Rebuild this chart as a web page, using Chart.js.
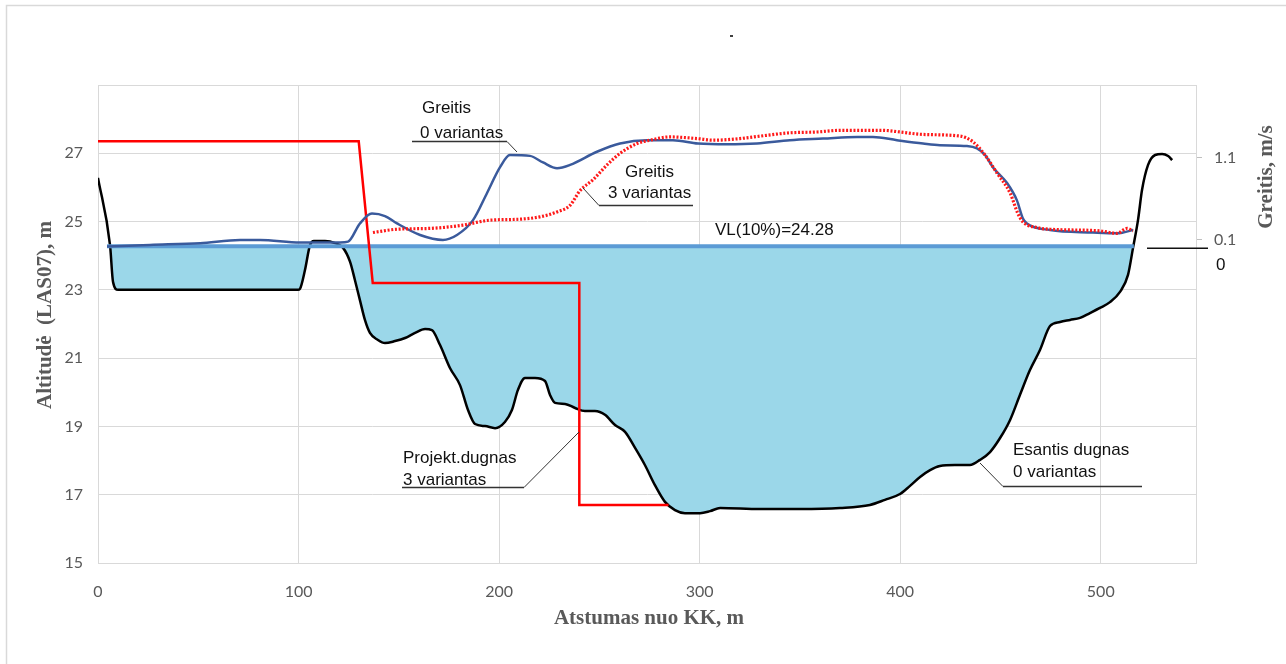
<!DOCTYPE html>
<html>
<head>
<meta charset="utf-8">
<script src="https://cdn.jsdelivr.net/npm/chart.js@4.4.1/dist/chart.umd.min.js"></script>
<style>
  html, body { margin: 0; padding: 0; background: #fff; }
  canvas { display: block; }
</style>
</head>
<body>
<canvas id="profile" width="1286" height="664"></canvas>
<script>
// existing river bed (0 variantas), distance m / altitude m
const groundDist = [0, 6, 7.5, 10, 99.7, 100.7, 103.2, 105.7, 107.7, 113.2, 118.2, 122.2, 125.7, 128.1, 130.6, 133.1,
  135.6, 139.6, 143.1, 148.1, 153.1, 158.1, 163.1, 166.5, 170.5, 175.5, 180.5, 184.5, 188, 193, 198, 202.9, 206.4,
  209.4, 212.9, 217.9, 222.9, 225.4, 227.9, 232.9, 237.9, 242.8, 247.8, 252.8, 257.8, 262.8, 267.8, 272.7, 277.7,
  282.7, 287.7, 292.7, 300.2, 305.2, 310.2, 330.1, 350, 370, 384.9, 392.4, 399.9, 404.9, 409.9, 414.9, 419.8, 427.3,
  434.8, 439.8, 444.8, 449.8, 454.8, 459.7, 464.7, 469.7, 474.7, 479.7, 484.7, 489.7, 494.6, 499.6, 504.6, 509.6,
  513.6, 516.1, 518.6, 520.6, 523.6, 527.1, 530.6, 533.6, 535.6];
const groundAlt = [26.28, 24.31, 23.23, 23.0, 23.0, 23.03, 23.58, 24.31, 24.43, 24.43, 24.37, 24.23, 23.82, 23.29, 22.7,
  22.12, 21.74, 21.53, 21.44, 21.5, 21.59, 21.74, 21.85, 21.82, 21.39, 20.71, 20.21, 19.48, 19.07, 19.01, 18.95, 19.13,
  19.48, 20.07, 20.42, 20.42, 20.33, 19.92, 19.69, 19.66, 19.54, 19.45, 19.45, 19.34, 19.04, 18.84, 18.37, 17.87,
  17.28, 16.79, 16.55, 16.46, 16.46, 16.52, 16.61, 16.58, 16.58, 16.61, 16.7, 16.85, 17.02, 17.26, 17.52, 17.72,
  17.84, 17.87, 17.87, 18.02, 18.25, 18.66, 19.19, 19.92, 20.65, 21.24, 21.94, 22.06, 22.12, 22.18, 22.32, 22.47,
  22.64, 22.94, 23.44, 24.23, 25.05, 25.93, 26.66, 26.95, 26.98, 26.92, 26.8];

// designed bed (3 variantas)
const projDist = [0, 130, 137, 240, 240, 284.5];
const projAlt = [27.35, 27.35, 23.2, 23.2, 16.7, 16.7];

// water level VL(10%)
const waterDist = [4.5, 516.5];
const waterAlt = [24.28, 24.28];

// flow velocity, m/s (0 variantas)
const vel0Dist = [4.5, 25.9, 50.9, 70.8, 80.8, 100.7, 120.7, 124.7, 130.6, 136.6, 143.1, 149.1, 160.6, 172, 179, 187,
  194, 200.4, 205.4, 215.4, 221.9, 228.9, 235.4, 248.8, 260.3, 273.8, 286.7, 299.2, 313.6, 328.6, 345, 361.5, 378.5,
  386.4, 398.4, 411.4, 419.8, 433.3, 438.3, 442.3, 446.3, 453.3, 458.2, 461.2, 463.2, 474.7, 496.1, 508.1, 511.1, 516.1];
const vel0 = [0.02, 0.04, 0.06, 0.1, 0.1, 0.07, 0.07, 0.08, 0.3, 0.42, 0.39, 0.3, 0.16, 0.1, 0.16, 0.34, 0.67, 0.98,
  1.13, 1.12, 1.04, 0.97, 1.01, 1.17, 1.27, 1.31, 1.31, 1.27, 1.26, 1.27, 1.31, 1.33, 1.35, 1.35, 1.31, 1.27, 1.25,
  1.24, 1.21, 1.13, 0.98, 0.79, 0.58, 0.36, 0.3, 0.22, 0.19, 0.18, 0.19, 0.22];

// flow velocity, m/s (3 variantas)
const vel3Dist = [137.1, 149.1, 165.5, 182, 195.5, 208.9, 220.4, 228.9, 235.4, 240.4, 246.8, 253.8, 260.3, 268.8,
  275.2, 285.2, 298.7, 306.7, 320.1, 333.6, 345, 358.5, 370, 391.4, 399.9, 411.4, 429.8, 436.3, 442.3, 448.3, 454.8,
  458.7, 461.2, 468.2, 474.7, 499.6, 508.1, 513.1, 516.1];
const vel3 = [0.19, 0.23, 0.24, 0.28, 0.34, 0.35, 0.38, 0.44, 0.52, 0.7, 0.83, 1.01, 1.15, 1.27, 1.31, 1.35, 1.33,
  1.31, 1.33, 1.37, 1.4, 1.41, 1.43, 1.43, 1.41, 1.38, 1.36, 1.29, 1.13, 0.91, 0.67, 0.42, 0.32, 0.25, 0.23, 0.21,
  0.18, 0.24, 0.21];

const distTicks = [0, 100, 200, 300, 400, 500];
const altTicks = [15, 17, 19, 21, 23, 25, 27];
const velTicks = [0.1, 1.1];

function pts(xs, ys) {
  return xs.map((x, i) => ({ x: x, y: ys[i] }));
}

const tickFont = { family: 'Lato, "Liberation Sans", sans-serif', size: 16 };
const grey = '#595959';
const gridCol = '#d9d9d9';

// frame, titles and callouts
const decor = {
  id: 'decor',
  beforeDraw(chart) {
    const ctx = chart.ctx;
    ctx.save();
    ctx.strokeStyle = gridCol;
    ctx.lineWidth = 1.5;
    ctx.beginPath();
    ctx.moveTo(6.5, 664);
    ctx.lineTo(6.5, 5.5);
    ctx.lineTo(1286, 5.5);
    ctx.stroke();
    ctx.restore();
  },
  beforeDatasetsDraw(chart) {
    const { ctx, chartArea: a } = chart;
    ctx.save();
    ctx.strokeStyle = gridCol;
    ctx.lineWidth = 1;
    ctx.strokeRect(a.left + 0.5, a.top + 0.5, a.width - 1, a.height);
    ctx.restore();
  },
  afterDraw(chart) {
    const ctx = chart.ctx;
    ctx.save();

    // axis titles
    ctx.fillStyle = grey;
    ctx.font = 'bold 21px "Liberation Serif", "Times New Roman", serif';
    ctx.textAlign = 'center';
    ctx.textBaseline = 'middle';
    ctx.fillText('Atstumas nuo KK, m', 649, 619);
    ctx.save();
    ctx.translate(46, 315);
    ctx.rotate(-Math.PI / 2);
    ctx.fillText('Altitudė  (LAS07), m', 0, 0);
    ctx.restore();
    ctx.save();
    ctx.translate(1267, 177);
    ctx.rotate(-Math.PI / 2);
    ctx.fillText('Greitis, m/s', 0, 0);
    ctx.restore();

    // tiny mark above the plot
    ctx.fillStyle = '#404040';
    ctx.fillRect(730, 35, 3, 2);

    // callouts
    ctx.fillStyle = '#111';
    ctx.font = '17px "Liberation Sans", Arial, sans-serif';
    ctx.textAlign = 'left';
    ctx.textBaseline = 'middle';
    const callout = (lines, ux0, ux1, uy, from, to) => {
      lines.forEach(l => ctx.fillText(l[0], l[1], l[2]));
      ctx.strokeStyle = '#333';
      ctx.lineWidth = 1.5;
      ctx.beginPath();
      ctx.moveTo(ux0, uy);
      ctx.lineTo(ux1, uy);
      ctx.stroke();
      ctx.lineWidth = 1;
      ctx.beginPath();
      ctx.moveTo(from[0], from[1]);
      ctx.lineTo(to[0], to[1]);
      ctx.stroke();
    };
    callout([['Greitis', 422, 108], ['0 variantas', 420, 133]], 412, 507, 141.5, [507, 141.5], [517, 152]);
    callout([['Greitis', 625, 172], ['3 variantas', 608, 193]], 599, 693, 205.5, [599, 205.5], [583, 188]);
    callout([['Projekt.dugnas', 403, 458], ['3 variantas', 403, 480]], 402, 524, 487.5, [524, 487.5], [579, 432]);
    callout([['Esantis dugnas', 1013, 450], ['0 variantas', 1013, 472]], 1003, 1142, 486.5, [1003, 486.5], [980, 463]);
    ctx.fillText('VL(10%)=24.28', 715, 230);

    // zero velocity marker
    const y0 = chart.scales.y1.getPixelForValue(0);
    ctx.strokeStyle = '#111';
    ctx.lineWidth = 1.5;
    ctx.beginPath();
    ctx.moveTo(1147, y0);
    ctx.lineTo(1208, y0);
    ctx.stroke();
    ctx.fillText('0', 1216, 265);
    ctx.restore();
  }
};

new Chart(document.getElementById('profile'), {
  type: 'line',
  data: {
    datasets: [
      {
        label: 'Esantis dugnas 0 variantas',
        data: pts(groundDist, groundAlt),
        borderColor: '#000',
        borderWidth: 2.5,
        cubicInterpolationMode: 'monotone',
        pointRadius: 0,
        yAxisID: 'y',
        order: 5
      },
      {
        label: 'VL(10%)',
        data: pts(waterDist, waterAlt),
        borderColor: '#5b9bd5',
        borderWidth: 4,
        pointRadius: 0,
        fill: { target: 0, above: '#9bd7e9', below: 'rgba(0,0,0,0)' },
        yAxisID: 'y',
        order: 4
      },
      {
        label: 'Projekt.dugnas 3 variantas',
        data: pts(projDist, projAlt),
        borderColor: '#ff0000',
        borderWidth: 2.5,
        pointRadius: 0,
        yAxisID: 'y',
        order: 3
      },
      {
        label: 'Greitis 0 variantas',
        data: pts(vel0Dist, vel0),
        borderColor: '#3a5a9c',
        borderWidth: 2.5,
        cubicInterpolationMode: 'monotone',
        pointRadius: 0,
        yAxisID: 'y1',
        order: 2
      },
      {
        label: 'Greitis 3 variantas',
        data: pts(vel3Dist, vel3),
        borderColor: '#ff1a1a',
        borderWidth: 3.2,
        borderDash: [2, 1.7],
        cubicInterpolationMode: 'monotone',
        pointRadius: 0,
        yAxisID: 'y1',
        order: 1
      }
    ]
  },
  options: {
    responsive: false,
    animation: false,
    devicePixelRatio: 1,
    layout: { padding: { top: 85, left: 0, right: 0, bottom: 0 } },
    plugins: {
      legend: { display: false },
      tooltip: { enabled: false },
      filler: { drawTime: 'beforeDatasetsDraw' }
    },
    scales: {
      x: {
        type: 'linear',
        min: 0,
        max: 548,
        afterBuildTicks: s => { s.ticks = distTicks.map(v => ({ value: v })); },
        afterFit: s => { s.height = 101; },
        grid: { color: gridCol, drawTicks: false },
        border: { display: false },
        ticks: { color: grey, font: tickFont, padding: 19 }
      },
      y: {
        position: 'left',
        min: 15,
        max: 29,
        afterBuildTicks: s => { s.ticks = altTicks.map(v => ({ value: v })); },
        afterFit: s => { s.width = 98; },
        grid: { color: gridCol, drawTicks: false },
        border: { display: false },
        ticks: { color: grey, font: tickFont, padding: 15 }
      },
      y1: {
        position: 'right',
        min: -3.82,
        max: 1.98,
        afterBuildTicks: s => { s.ticks = velTicks.map(v => ({ value: v })); },
        afterFit: s => { s.width = 89; },
        grid: { drawOnChartArea: false, color: '#bfbfbf', tickLength: 5 },
        border: { display: false },
        ticks: { color: grey, font: tickFont, padding: 12, callback: v => v.toFixed(1) }
      }
    }
  },
  plugins: [decor]
});
</script>
</body>
</html>
